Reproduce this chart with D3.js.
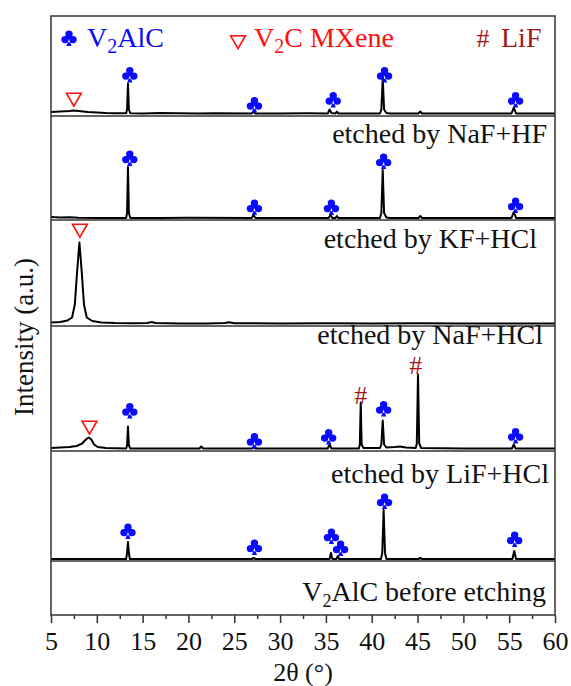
<!DOCTYPE html>
<html>
<head>
<meta charset="utf-8">
<script src="https://cdn.jsdelivr.net/npm/d3@7"></script>
<style>
body { margin: 0; background: #fff; }
svg text { font-family: "Liberation Serif", "Times New Roman", serif; }
</style>
</head>
<body>
<svg id="chart" width="571" height="686"></svg>
<script>
// x ticks (2theta, degrees)
var xTicks = [5, 10, 15, 20, 25, 30, 35, 40, 45, 50, 55, 60];
var xMinor = [7.5, 12.5, 17.5, 22.5, 27.5, 32.5, 37.5, 42.5, 47.5, 52.5, 57.5];

// patterns: [2theta, intensity above own baseline]
var nafHF = [[5,1.5],[6,2],[7,2.5],[7.5,3],[8,2.5],[9,1.5],[10,1],[11,0.5],[12,0.3],[13.2,0.3],[13.3,4],[13.4,30],[13.5,4],[13.65,0.3],
  [15,0],[17,0.5],[19,0.2],[21,0],[23,0.3],[26.9,0],[27.1,2],[27.3,0],[30,0],[33,0.2],[35.2,0],[35.4,4],[35.6,0.5],[36.05,0],[36.2,2],[36.35,0],
  [40.9,0],[41.05,4],[41.2,35],[41.35,4],[41.6,0.5],[42,0],[45.1,0],[45.3,2],[45.5,0],[50,0],[55.25,0],[55.5,6],[55.75,0],[60,0]];
var kfHCl = [[5,1],[6,0.5],[7,0.8],[8,0.3],[10,0],[13.2,0],[13.3,5],[13.4,51],[13.5,5],[13.65,0],[17,0],[20,0.3],[26.9,0],[27.1,3],[27.3,0],
  [35.3,0],[35.5,3],[35.7,0],[36.05,0],[36.2,2],[36.35,0],[40.9,0],[41.05,5],[41.2,48],[41.35,5],[41.6,0.5],[42,0],[45.1,0],[45.3,2],[45.5,0],
  [55.25,0],[55.5,6],[55.75,0],[60,0]];
var nafHCl = [[5,1],[6,1.5],[6.8,3],[7.3,6],[7.6,19],[7.85,52],[8.1,81],[8.35,52],[8.6,19],[8.9,6],[9.5,2.5],[10.5,1],[12,0.5],[14,0.3],
  [15.5,0.5],[16,1.5],[16.4,0.5],[19,0],[22,0],[24,0.5],[24.4,1.2],[25,0.3],[30,0],[35,0.3],[40,0],[45,0.3],[50,0],[55,0],[60,0]];
var lifHCl = [[5,0.5],[6,1],[7,1.5],[7.8,2.5],[8.4,5],[8.8,9],[9.1,11],[9.4,9],[9.7,4],[10.1,1.5],[11,0.5],[13.2,0],[13.3,3],[13.4,22],[13.5,3],[13.65,0],
  [17,0],[21.2,0],[21.4,2],[21.6,0],[26.9,0],[27.1,1],[27.3,0],[35.2,0],[35.4,4],[35.6,0],[38.6,0],[38.7,4],[38.8,46],[38.9,4],[39.1,0.5],
  [40.9,0.5],[41.05,4],[41.2,28],[41.35,4],[41.6,1],[42.5,1.5],[43.1,2],[43.7,1],[44.8,0.5],[44.92,5],[45.05,74],[45.18,5],[45.4,0.5],
  [50,0],[55.3,0],[55.5,4],[55.7,0],[60,0]];
var v2alc = [[5,0],[13.2,0],[13.3,6],[13.4,17],[13.5,6],[13.6,0],[26.9,0],[27.1,1],[27.3,0],[35.4,0],[35.55,6],[35.7,0],[36.15,0],[36.3,3],[36.45,0],
  [41.0,0],[41.15,6],[41.3,49],[41.45,6],[41.6,0],[45.1,0],[45.3,1],[45.5,0],[55.35,0],[55.55,8],[55.75,0],[60,0]];

// phase markers: [kind, 2theta, level]  (v = V2AlC, m = V2C MXene, l = LiF)
var mkNafHF = [["m",7.5,16],["v",13.6,39],["v",27.2,9],["v",35.8,14],["v",41.4,39],["v",55.7,14]];
var mkKfHCl = [["v",13.6,60],["v",27.2,11],["v",35.6,11],["v",41.3,57],["v",55.7,13]];
var mkNafHCl = [["m",8.15,95]];
var mkLifHCl = [["m",9.2,23],["v",13.6,38],["v",27.2,8],["v",35.3,12],["l",38.8,53],["v",41.3,40],["l",44.8,83],["v",55.7,13]];
var mkV2alc = [["v",13.4,28],["v",27.2,12],["v",35.6,23],["v",36.6,11],["v",41.4,58],["v",55.6,20]];

var labels = ["etched by NaF+HF", "etched by KF+HCl", "etched by NaF+HCl", "etched by LiF+HCl", "before etching"];

var series = [nafHF, kfHCl, nafHCl, lifHCl, v2alc];
var markers = [mkNafHF, mkKfHCl, mkNafHCl, mkLifHCl, mkV2alc];

// layout (pixels)
var baselines = [113.5, 218, 323.5, 448.5, 559];
var panelLines = [116, 220, 326, 451, 561];
var labelPos = [[547, 143], [537, 248], [543, 344], [549, 483], [546, 601]];

var serif = "'Liberation Serif', 'Times New Roman', serif";
var blue = "#0a0aff", red = "#ff1010", darkred = "#a01818";

var svg = d3.select("#chart"),
    margin = {top: 16, right: 16, bottom: 71, left: 51},
    width = +svg.attr("width") - margin.left - margin.right,
    height = +svg.attr("height") - margin.top - margin.bottom;

var x = d3.scaleLinear().domain([5, 60]).range([margin.left, margin.left + width]);

function clubPath(cx, cy) {
  var p = d3.path(), r = 3.7;
  [[0, -3.9], [-4, 1.6], [4, 1.6], [0, 0.5]].forEach(function(c) {
    p.moveTo(cx + c[0] + r, cy + c[1]);
    p.arc(cx + c[0], cy + c[1], r, 0, 2 * Math.PI);
  });
  p.moveTo(cx, cy + 1);
  p.lineTo(cx - 2.6, cy + 8);
  p.lineTo(cx + 2.6, cy + 8);
  p.closePath();
  return p.toString();
}
var tri = d3.symbol().type(d3.symbolTriangle).size(95);

function drawMarker(g, kind, cx, cy) {
  if (kind === "v") {
    g.append("path").attr("d", clubPath(cx, cy)).attr("fill", blue);
  } else if (kind === "m") {
    g.append("path").attr("d", tri())
      .attr("transform", "translate(" + cx + "," + cy + ") rotate(180)")
      .attr("fill", "#fff").attr("stroke", red).attr("stroke-width", 1.6);
  } else {
    g.append("text").attr("x", cx).attr("y", cy + 8).attr("text-anchor", "middle")
      .attr("font-size", 26).attr("fill", darkred).text("#");
  }
}

// panels
var g = svg.append("g");
series.forEach(function(data, i) {
  var y = d3.scaleLinear().domain([0, 100]).range([baselines[i], baselines[i] - 100]);
  var line = d3.line().x(function(d) { return x(d[0]); }).y(function(d) { return y(d[1]); });

  g.append("line")
      .attr("x1", x(5)).attr("x2", x(60))
      .attr("y1", panelLines[i]).attr("y2", panelLines[i])
      .attr("stroke", "#333").attr("stroke-width", 1.5);

  g.append("path")
      .datum(data)
      .attr("fill", "none")
      .attr("stroke", "#000")
      .attr("stroke-linejoin", "round")
      .attr("stroke-width", 2)
      .attr("d", line);

  markers[i].forEach(function(m) { drawMarker(g, m[0], x(m[1]), y(m[2])); });

  var t = g.append("text")
      .attr("x", labelPos[i][0]).attr("y", labelPos[i][1])
      .attr("text-anchor", "end").attr("font-size", 28).attr("fill", "#111");
  if (i === 4) {
    t.append("tspan").text("V");
    t.append("tspan").attr("font-size", 18).attr("dy", 6).text("2");
    t.append("tspan").attr("dy", -6).text("AlC " + labels[i]);
  } else {
    t.text(labels[i]);
  }
});

// frame
svg.append("rect")
    .attr("x", margin.left).attr("y", margin.top)
    .attr("width", width).attr("height", height)
    .attr("fill", "none").attr("stroke", "#333").attr("stroke-width", 1.5);

// x axis
var axisY = margin.top + height;
svg.append("g")
    .attr("transform", "translate(0," + axisY + ")")
    .call(d3.axisBottom(x).tickValues(xMinor).tickSize(4).tickFormat(""))
    .call(function(a) { a.select(".domain").remove(); a.selectAll("line").attr("stroke", "#333").attr("stroke-width", 1.5); });
svg.append("g")
    .attr("transform", "translate(0," + axisY + ")")
    .call(d3.axisBottom(x).tickValues(xTicks).tickSize(8).tickPadding(8.5).tickFormat(d3.format("d")))
    .call(function(a) {
      a.select(".domain").remove();
      a.selectAll("line").attr("stroke", "#333").attr("stroke-width", 1.5);
      a.selectAll("text").attr("font-size", 26).attr("fill", "#111").style("font-family", serif);
    });

svg.append("text")
    .attr("x", margin.left + width / 2).attr("y", 681)
    .attr("text-anchor", "middle").attr("font-size", 26).attr("fill", "#111")
    .text("2θ (°)");

svg.append("text")
    .attr("transform", "translate(33,337) rotate(-90)")
    .attr("text-anchor", "middle").attr("font-size", 27).attr("fill", "#111")
    .text("Intensity (a.u.)");

// legend
var lg = svg.append("g");
drawMarker(lg, "v", 69, 38);
var l1 = lg.append("text").attr("x", 87).attr("y", 47).attr("font-size", 28).attr("fill", blue);
l1.append("tspan").text("V");
l1.append("tspan").attr("font-size", 20).attr("dy", 6).text("2");
l1.append("tspan").attr("dy", -6).text("AlC");

drawMarker(lg, "m", 238, 40);
var l2 = lg.append("text").attr("x", 254).attr("y", 47).attr("font-size", 28).attr("fill", red);
l2.append("tspan").text("V");
l2.append("tspan").attr("font-size", 20).attr("dy", 6).text("2");
l2.append("tspan").attr("dy", -6).text("C MXene");

lg.append("text").attr("x", 483).attr("y", 47).attr("text-anchor", "middle")
    .attr("font-size", 26).attr("fill", darkred).text("#");
lg.append("text").attr("x", 501).attr("y", 47).attr("font-size", 28).attr("fill", darkred).text("LiF");
</script>
</body>
</html>
